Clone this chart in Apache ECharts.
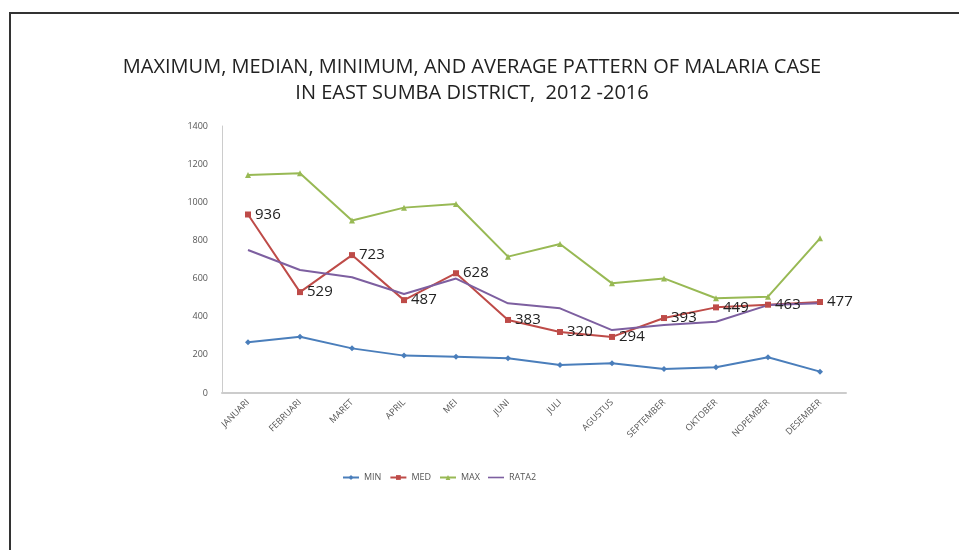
<!DOCTYPE html>
<html>
<head>
<meta charset="utf-8">
<script src="https://cdn.jsdelivr.net/npm/echarts@6/dist/echarts.min.js"></script>
<style>
	html, body { margin: 0; padding: 0; background: #fff; }
	#chart { width: 959px; height: 550px; }
</style>
</head>
<body>
<div id="chart"></div>
<script>
// bulan
var months = ['JANUARI', 'FEBRUARI', 'MARET', 'APRIL', 'MEI', 'JUNI', 'JULI', 'AGUSTUS', 'SEPTEMBER', 'OKTOBER', 'NOPEMBER', 'DESEMBER'];
var minData = [266, 295, 234, 196, 190, 182, 147, 156, 126, 135, 187, 112];
var medData = [936, 529, 723, 487, 628, 383, 320, 294, 393, 449, 463, 477];
var maxData = [1143, 1152, 904, 972, 991, 715, 781, 575, 601, 497, 505, 811];
var rata2Data = [750, 645, 607, 519, 600, 470, 444, 330, 357, 374, 461, 470];
var yTicks = [0, 200, 400, 600, 800, 1000, 1200, 1400];

!function(){
	var myChart = echarts.init(document.getElementById('chart'));
	var lineSeries = function(name, data, color, symbol, size){
		return {
			name: name,
			type: 'line',
			data: data,
			symbol: symbol,
			symbolSize: size,
			showSymbol: symbol !== 'none',
			lineStyle: { color: color, width: 2 },
			itemStyle: { color: color },
			animation: false
		};
	};
	var med = lineSeries('MED', medData, '#BE4B48', 'rect', 6);
	med.label = {
		show: true,
		position: 'right',
		distance: 4,
		color: '#222',
		fontFamily: 'Open Sans',
		fontSize: 15
	};
	var option = {
		backgroundColor: '#fff',
		graphic: [{
			type: 'rect',
			shape: { x: 10, y: 13, width: 960, height: 560 },
			style: { fill: 'none', stroke: '#333', lineWidth: 2 }
		}],
		title: {
			text: 'MAXIMUM, MEDIAN, MINIMUM, AND AVERAGE PATTERN OF MALARIA CASE\nIN EAST SUMBA DISTRICT,  2012 -2016',
			left: 467,
			textAlign: 'center',
			top: 49,
			textStyle: {
				fontFamily: 'Open Sans',
				fontSize: 20,
				fontWeight: 'normal',
				color: '#222',
				lineHeight: 26
			}
		},
		legend: {
			data: ['MIN', 'MED', 'MAX', { name: 'RATA2', icon: 'path://M0,0L20,0L20,2L0,2Z' }],
			left: 337,
			top: 468,
			itemWidth: 16,
			itemHeight: 6,
			itemGap: 8,
			textStyle: { fontFamily: 'Open Sans', fontSize: 9, color: '#555' }
		},
		grid: { left: 222, right: 113, top: 126, bottom: 157 },
		xAxis: {
			type: 'category',
			data: months,
			boundaryGap: true,
			axisLine: { lineStyle: { color: '#ccc', width: 2 } },
			axisTick: { show: false },
			axisLabel: {
				rotate: 45,
				interval: 0,
				fontFamily: 'Open Sans',
				fontSize: 9,
				color: '#555',
				margin: 8
			}
		},
		yAxis: {
			type: 'value',
			min: yTicks[0],
			max: yTicks[yTicks.length - 1],
			interval: 200,
			axisLine: { show: true, lineStyle: { color: '#ccc', width: 1 } },
			axisTick: { show: false },
			splitLine: { show: false },
			axisLabel: {
				fontFamily: 'Open Sans',
				fontSize: 9,
				color: '#555',
				margin: 14,
				formatter: function(v){ return String(v); }
			}
		},
		series: [
			lineSeries('MIN', minData, '#4A7EBB', 'diamond', 6),
			med,
			lineSeries('MAX', maxData, '#98B954', 'triangle', 6),
			lineSeries('RATA2', rata2Data, '#7D5FA0', 'none', 0)
		]
	};
	myChart.setOption(option);
}()
</script>
</body>
</html>
